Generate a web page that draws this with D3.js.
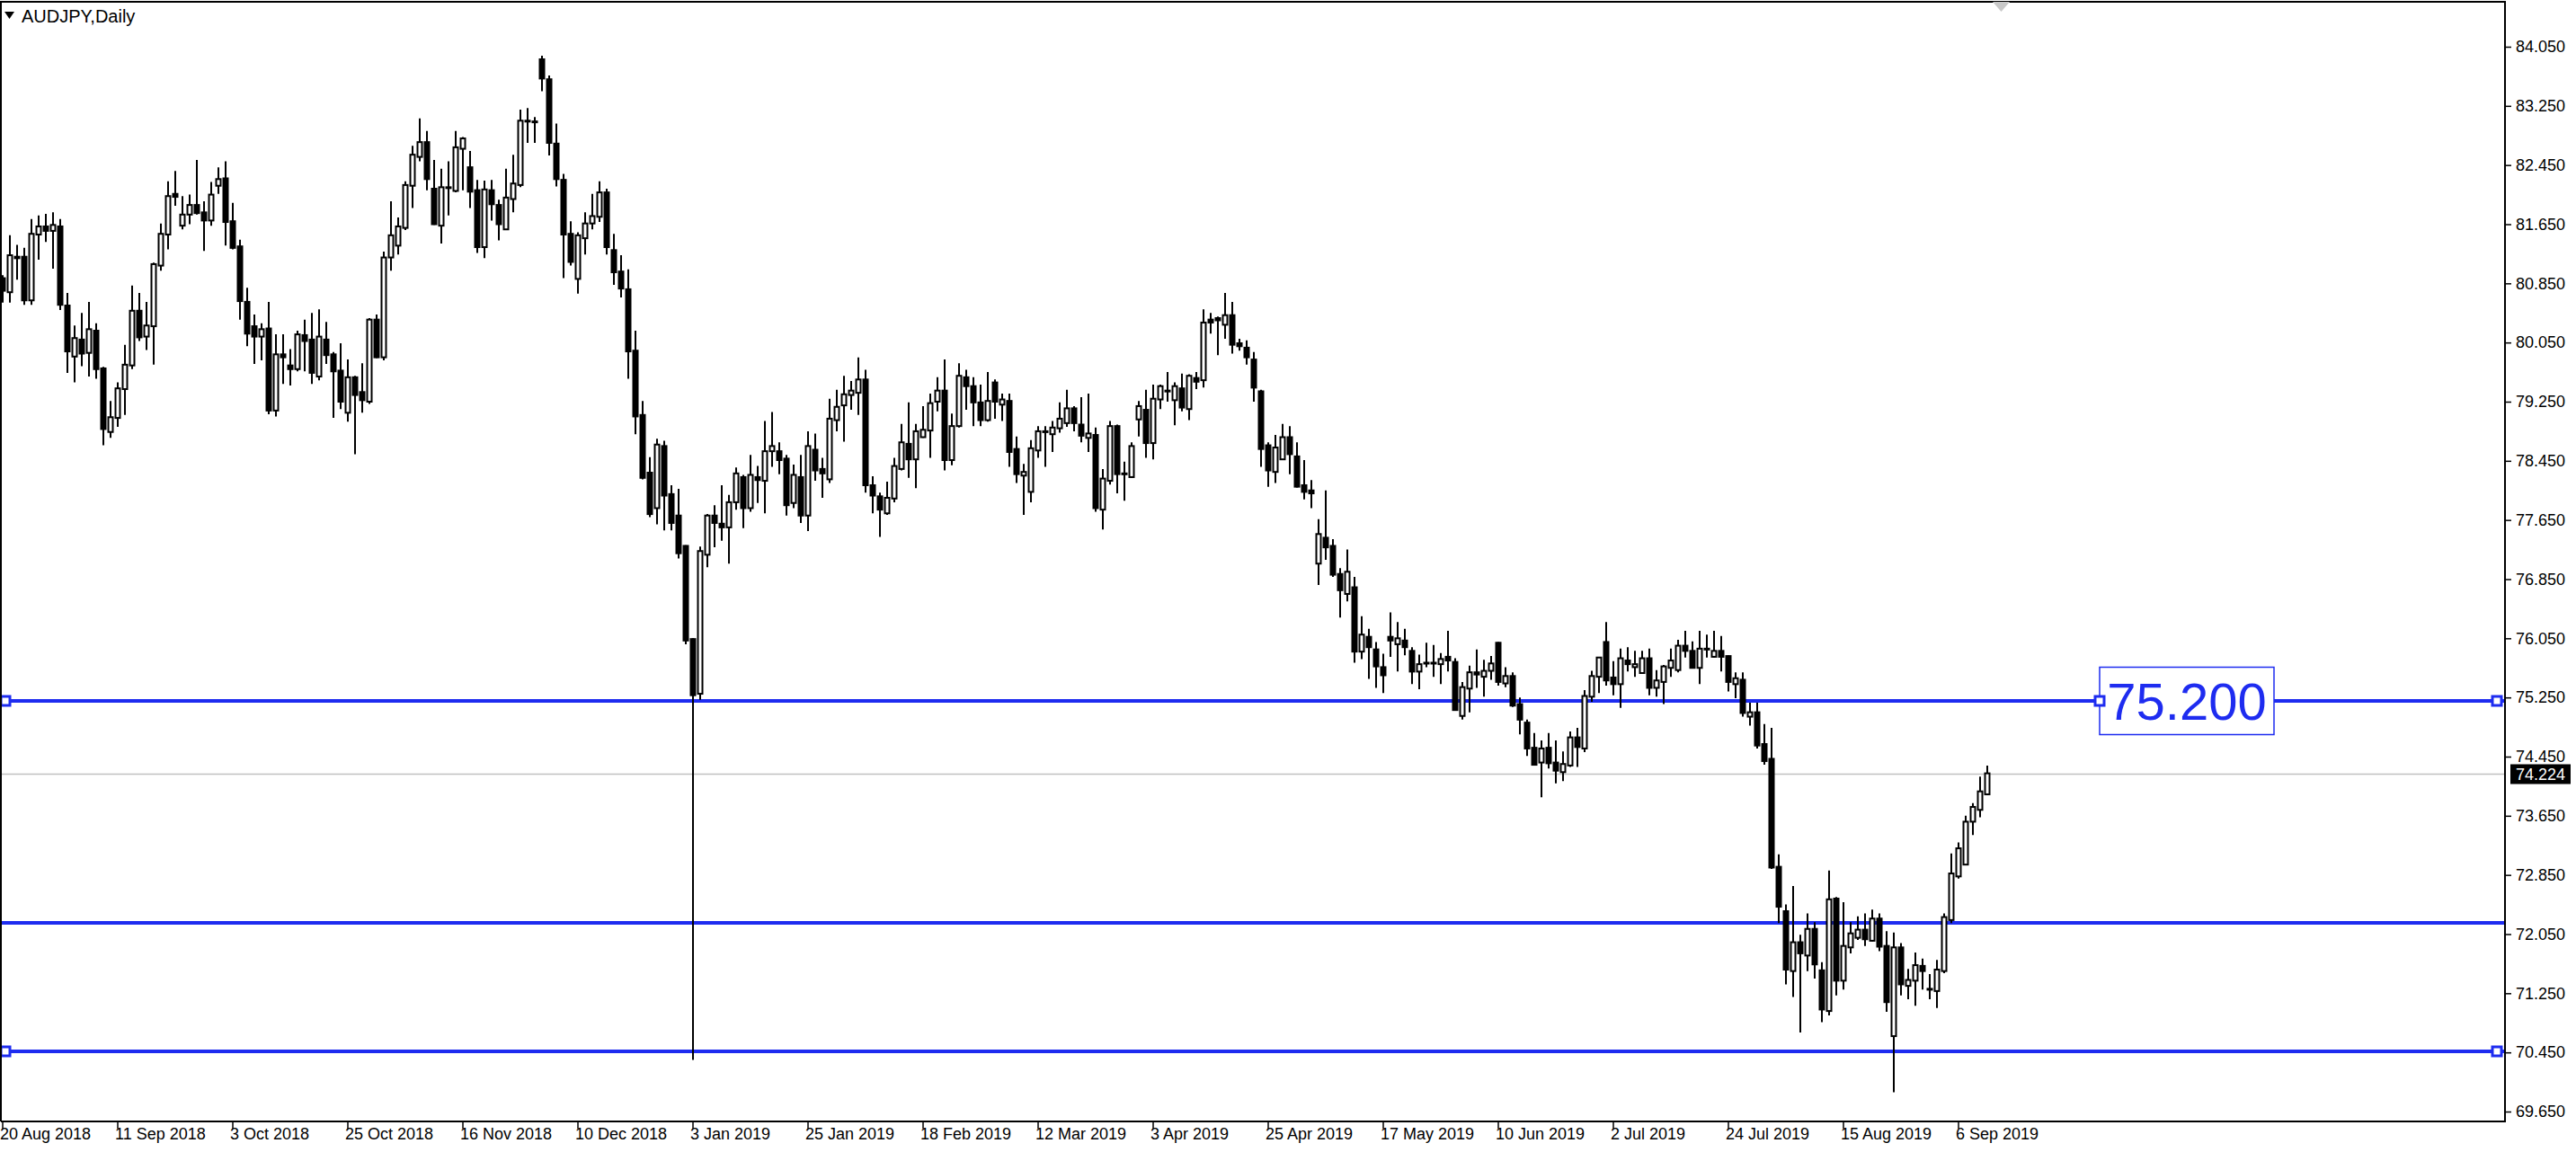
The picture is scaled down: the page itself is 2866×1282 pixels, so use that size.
<!DOCTYPE html>
<html>
<head>
<meta charset="utf-8">
<script src="https://cdn.jsdelivr.net/npm/d3@7"></script>
<style>
body { margin: 0; background: #fff; }
svg text { font-family: "Liberation Sans", Arial, sans-serif; }
</style>
</head>
<body>
<svg id="chart" width="2866" height="1282"></svg>
<script>
// AUDJPY daily bars, 20 Aug 2018 .. 12 Sep 2019
var openP = [80.92,80.73,81.21,81.21,80.62,81.51,81.62,81.56,81.62,80.55,79.86,80.09,79.91,80.21,79.70,78.84,79.03,79.42,79.74,80.48,
80.13,80.27,81.09,81.51,82.06,81.63,81.78,81.91,81.81,81.70,82.17,82.27,81.69,81.35,80.60,80.27,80.13,80.24,79.13,79.89,
79.74,79.69,80.15,80.09,79.59,80.09,79.89,79.67,79.10,79.58,79.38,79.25,80.36,79.85,81.20,81.36,81.60,82.17,82.56,82.76,
82.13,81.63,82.15,82.10,82.67,82.42,82.11,81.34,82.11,81.91,81.58,81.99,82.18,83.05,83.04,83.88,83.61,82.74,82.25,81.52,
80.91,81.46,81.66,81.75,82.08,81.30,81.01,80.77,79.94,79.07,78.29,77.81,78.65,78.00,77.71,77.30,76.04,75.30,77.18,77.71,
77.60,77.55,77.89,78.23,77.81,78.23,78.18,78.58,78.58,78.48,77.88,78.23,77.71,78.60,78.34,78.20,79.00,79.20,79.34,79.37,
79.55,78.12,77.97,77.74,77.94,78.34,78.68,78.47,78.77,78.86,79.25,79.40,78.46,78.92,79.58,79.46,79.24,79.00,79.51,79.21,
79.26,78.61,78.25,78.03,78.59,78.85,78.81,78.89,78.96,79.16,78.94,78.76,78.80,77.79,78.18,78.92,78.28,78.23,79.01,79.14,
78.69,79.28,79.40,79.27,79.43,79.15,79.57,79.54,80.36,80.38,80.29,80.42,80.04,79.98,79.82,79.39,78.66,78.30,78.47,78.77,
78.51,78.12,78.05,77.06,77.41,77.30,76.92,76.65,76.74,75.87,76.07,75.90,75.66,76.07,75.97,76.02,75.88,75.60,75.72,75.72,
75.70,75.80,75.73,75.00,75.37,75.59,75.53,75.61,75.99,75.44,75.54,75.16,74.91,74.57,74.37,74.57,74.37,74.24,74.33,74.71,
74.56,75.26,75.53,76.00,75.52,75.43,75.75,75.66,75.58,75.78,75.38,75.46,75.65,75.62,75.95,75.88,75.65,75.91,75.80,75.88,
75.81,75.43,75.49,74.99,75.05,74.62,74.42,72.96,72.36,71.55,71.94,71.76,72.12,71.56,71.01,72.53,71.42,71.87,72.00,72.11,
71.96,72.26,71.89,70.67,71.87,71.35,71.42,71.62,71.31,71.28,71.55,72.24,72.83,72.99,73.57,73.73,73.94];
var highP = [80.96,81.50,81.37,81.33,81.72,81.77,81.79,81.81,81.72,80.72,80.28,80.45,80.60,80.31,79.72,79.26,79.51,80.02,80.82,80.72,
80.60,81.13,81.66,82.23,82.37,82.03,82.05,82.52,81.96,82.22,82.42,82.50,81.94,81.44,80.79,80.43,80.31,80.60,80.16,80.16,
79.96,80.21,80.36,80.45,80.50,80.33,79.92,80.04,79.82,79.60,79.77,80.38,80.43,81.28,81.96,81.74,82.23,82.71,83.08,82.91,
82.52,82.40,82.50,82.91,82.83,82.64,82.25,82.24,82.25,81.98,82.40,82.59,83.20,83.22,83.10,83.93,83.66,83.01,82.33,81.69,
81.54,81.81,82.06,82.23,82.13,81.52,81.23,81.04,80.21,79.26,78.50,78.75,78.72,78.12,78.07,77.31,76.05,77.29,77.73,77.85,
78.12,77.99,78.36,78.26,78.53,78.38,78.99,79.11,78.70,78.53,78.40,78.53,78.85,78.82,78.49,79.29,79.41,79.60,79.53,79.85,
79.68,78.24,78.02,78.17,78.49,78.95,79.24,78.95,79.19,79.36,79.58,79.82,79.09,79.77,79.68,79.58,79.48,79.65,79.55,79.36,
79.36,78.78,78.41,78.73,78.92,78.92,78.99,79.24,79.41,79.19,79.31,79.36,78.90,78.34,78.99,78.94,78.44,78.70,79.26,79.41,
79.48,79.48,79.65,79.51,79.63,79.62,79.65,80.50,80.45,80.40,80.72,80.60,80.10,80.08,79.92,79.41,78.70,78.80,78.95,78.92,
78.70,78.46,78.19,77.66,78.05,77.39,77.00,77.25,76.88,76.35,76.18,76.00,75.84,76.40,76.27,76.18,75.93,75.83,75.99,75.96,
75.85,76.15,75.78,75.46,75.68,75.90,75.76,75.81,76.00,75.66,75.59,75.25,74.95,74.77,74.67,74.77,74.67,74.52,74.79,74.84,
75.35,75.61,75.80,76.27,75.74,75.91,75.93,75.88,75.88,75.91,75.62,75.69,75.91,76.03,76.15,76.01,76.15,76.10,76.15,76.08,
75.82,75.59,75.59,75.18,75.18,74.89,74.84,73.13,72.45,72.70,72.04,72.33,72.21,71.67,72.91,72.55,72.48,72.21,72.29,72.33,
72.38,72.33,72.09,72.07,71.93,71.58,71.80,71.72,71.51,71.70,72.33,73.14,73.29,73.65,73.82,74.18,74.33];
var lowP = [80.59,80.59,80.90,80.56,80.56,81.17,81.41,81.05,80.49,79.64,79.51,79.73,79.59,79.56,78.66,78.76,78.91,79.07,79.69,80.07,
79.95,79.75,81.02,81.31,81.90,81.58,81.65,81.78,81.29,81.63,82.06,81.36,81.31,80.36,80.00,79.76,79.81,79.08,79.05,79.49,
79.47,79.66,79.66,79.49,79.54,79.76,79.03,79.15,78.98,78.54,79.10,79.22,79.84,79.81,81.02,81.24,81.57,81.87,82.50,82.11,
81.64,81.39,81.77,82.08,82.11,81.87,81.26,81.19,81.70,81.43,81.57,81.81,82.15,82.75,82.75,83.45,82.58,82.16,80.92,81.09,
80.71,81.24,81.58,81.68,81.24,80.83,80.66,79.56,78.81,78.20,77.69,77.59,77.51,77.51,77.13,75.97,70.35,75.22,77.01,77.28,
77.37,77.06,77.79,77.54,77.76,77.88,77.74,78.37,78.27,77.71,77.81,77.61,77.50,78.18,77.95,78.15,78.85,78.71,79.14,79.07,
78.02,77.74,77.42,77.72,77.89,78.32,78.22,78.08,78.76,78.49,79.12,78.32,78.39,78.90,79.14,78.92,78.92,78.98,79.02,78.99,
78.37,78.15,77.72,77.89,78.49,78.37,78.57,78.83,78.91,78.85,78.70,78.57,77.76,77.52,78.13,78.01,77.91,78.22,78.78,78.49,
78.47,79.15,79.25,78.93,79.12,79.00,79.42,79.44,80.17,79.88,80.10,79.90,79.94,79.75,79.25,78.37,78.10,78.15,78.46,78.27,
78.09,77.93,77.81,76.77,77.11,76.88,76.33,76.55,75.72,75.77,75.50,75.38,75.31,75.80,75.60,75.82,75.43,75.36,75.66,75.53,
75.43,75.60,75.07,74.95,75.05,75.38,75.26,75.49,75.41,75.39,75.12,74.75,74.46,74.33,73.90,74.29,74.09,74.12,74.31,74.31,
74.51,75.19,75.31,75.41,75.28,75.11,75.60,75.53,75.57,75.28,75.26,75.16,75.53,75.59,75.79,75.64,75.43,75.79,75.79,75.60,
75.33,75.24,74.99,74.87,74.56,74.34,72.93,72.20,71.37,71.20,70.72,71.55,71.45,70.86,70.95,71.22,71.30,71.79,71.97,71.89,
71.95,71.82,71.00,69.91,71.22,71.17,71.08,71.30,71.17,71.05,71.52,72.20,72.80,72.98,73.39,73.63,73.93];
var closeP = [80.75,81.23,81.19,80.62,81.52,81.62,81.56,81.64,80.56,79.93,80.11,79.90,80.23,79.69,78.88,79.04,79.43,79.75,80.48,80.12,
80.28,81.11,81.52,82.03,82.02,81.78,81.91,81.80,81.70,82.05,82.26,81.68,81.33,80.61,80.17,80.13,80.23,79.13,79.89,79.85,
79.69,80.16,80.07,79.64,80.13,79.88,79.66,79.25,79.58,79.34,79.27,80.36,79.85,81.20,81.50,81.62,82.18,82.59,82.76,82.26,
81.65,82.15,82.14,82.69,82.81,82.09,81.34,82.12,81.92,81.65,82.01,82.20,83.05,83.04,83.03,83.62,82.75,82.26,81.51,81.14,
81.50,81.66,81.76,82.08,81.34,81.00,80.78,79.93,79.05,78.22,77.73,78.67,77.98,77.61,77.20,76.02,75.28,77.23,77.71,77.61,
77.55,77.89,78.28,77.81,78.26,78.19,78.58,78.65,78.46,77.85,78.26,77.71,78.65,78.32,78.28,79.02,79.18,79.35,79.40,79.55,
78.12,77.98,77.79,77.95,78.38,78.70,78.47,78.85,78.87,79.23,79.40,78.46,78.92,79.60,79.46,79.24,79.00,79.26,79.25,79.28,
78.57,78.27,78.30,78.62,78.85,78.84,78.90,79.02,79.16,78.96,78.79,78.82,77.81,78.21,78.92,78.27,78.27,78.65,79.19,78.69,
79.29,79.46,79.39,79.46,79.17,79.60,79.52,80.32,80.32,80.35,80.42,80.02,80.00,79.85,79.44,78.61,78.32,78.63,78.77,78.54,
78.10,78.03,78.01,77.46,77.28,76.91,76.70,76.95,75.87,76.10,75.93,75.67,75.55,76.02,76.05,75.93,75.60,75.70,75.71,75.71,
75.77,75.75,75.08,75.39,75.59,75.56,75.61,75.71,75.46,75.54,75.14,74.95,74.56,74.34,74.56,74.36,74.26,74.35,74.71,74.58,
75.27,75.54,75.79,75.48,75.43,75.78,75.70,75.70,75.78,75.38,75.48,75.67,75.75,75.95,75.88,75.65,75.91,75.90,75.88,75.80,
75.46,75.51,75.04,75.05,74.60,74.39,72.95,72.42,71.57,71.94,71.79,72.12,71.64,71.03,72.52,71.42,71.89,72.06,72.11,71.98,
72.26,71.88,71.13,71.87,71.37,71.43,71.63,71.55,71.30,71.57,72.28,72.87,73.21,73.57,73.77,73.98,74.224];

var dateLabels = ["20 Aug 2018","11 Sep 2018","3 Oct 2018","25 Oct 2018","16 Nov 2018","10 Dec 2018","3 Jan 2019",
  "25 Jan 2019","18 Feb 2019","12 Mar 2019","3 Apr 2019","25 Apr 2019","17 May 2019","10 Jun 2019","2 Jul 2019",
  "24 Jul 2019","15 Aug 2019","6 Sep 2019"];
var dateBars = [0,16,32,48,64,80,96,112,128,144,160,176,192,208,224,240,256,272];
var priceTicks = [84.05,83.25,82.45,81.65,80.85,80.05,79.25,78.45,77.65,76.85,76.05,75.25,74.45,73.65,72.85,72.05,71.25,70.45,69.65];
var levels = [75.2, 72.2, 70.46];
var markedLevels = [75.2, 70.46];
var lastPrice = 74.224;
var symbolTitle = "AUDJPY,Daily";

var W = 2866, H = 1282;
var axisX = 2787, plotTop = 2, plotBottom = 1248;
var blue = "#1e2cf0";

var svg = d3.select("#chart");
svg.append("rect").attr("width", W).attr("height", H).attr("fill", "#fff");

var n = openP.length;
var x = d3.scaleLinear().domain([0, n - 1]).range([3, 3 + 8 * (n - 1)]);
var y = d3.scaleLinear().domain([69.65, 84.05]).range([1237, 52]);
function py(v) { return Math.round(y(v)) + 0.5; }

// current price line
svg.append("line")
  .attr("x1", 0).attr("x2", axisX)
  .attr("y1", py(lastPrice)).attr("y2", py(lastPrice))
  .attr("stroke", "#c0c0c0").attr("stroke-width", 1.5);

// horizontal levels
svg.selectAll(".lvl").data(levels).join("line")
  .attr("class", "lvl")
  .attr("x1", 0).attr("x2", axisX)
  .attr("y1", d => Math.round(y(d))).attr("y2", d => Math.round(y(d)))
  .attr("stroke", blue).attr("stroke-width", 4);

// candles
var bars = svg.append("g").selectAll("g").data(d3.range(n)).join("g");
bars.append("line")
  .attr("x1", i => x(i)).attr("x2", i => x(i))
  .attr("y1", i => y(highP[i])).attr("y2", i => y(lowP[i]))
  .attr("stroke", "#000").attr("stroke-width", 2);
bars.append("rect")
  .attr("x", i => x(i) - 2.5)
  .attr("width", 5)
  .attr("y", i => y(Math.max(openP[i], closeP[i])))
  .attr("height", i => Math.max(1, Math.abs(y(openP[i]) - y(closeP[i]))))
  .attr("fill", i => closeP[i] > openP[i] ? "#fff" : "#000")
  .attr("stroke", "#000").attr("stroke-width", 2);

// selection markers on levels
var mk = [];
markedLevels.forEach(function (v) { mk.push([6, v]); mk.push([axisX - 9, v]); });
mk.push([2336, levels[0]]);

// label box on 75.200
var bx = 2336, bw = 194, bh = 75;
svg.append("rect")
  .attr("x", bx).attr("y", Math.round(y(levels[0])) - bh / 2)
  .attr("width", bw).attr("height", bh)
  .attr("fill", "#fff").attr("stroke", blue).attr("stroke-width", 1.5);
svg.append("text")
  .attr("x", bx + bw / 2).attr("y", Math.round(y(levels[0])) + 21)
  .attr("text-anchor", "middle")
  .attr("font-size", 58).attr("fill", blue)
  .text(d3.format(".3f")(levels[0]));

svg.selectAll(".mk").data(mk).join("rect")
  .attr("class", "mk")
  .attr("x", d => d[0] - 5).attr("y", d => Math.round(y(d[1])) - 5)
  .attr("width", 10).attr("height", 10)
  .attr("fill", "#fff").attr("stroke", blue).attr("stroke-width", 3);

// frame
svg.append("path")
  .attr("d", "M1," + plotBottom + "V" + plotTop + "H" + axisX + "V" + plotBottom + "H1")
  .attr("fill", "none").attr("stroke", "#000").attr("stroke-width", 2);

// price axis
var yAxis = d3.axisRight(y).tickValues(priceTicks).tickFormat(d3.format(".3f")).tickSize(7).tickPadding(5);
var ga = svg.append("g").attr("transform", "translate(" + axisX + ",0)").call(yAxis);
ga.select(".domain").remove();
ga.selectAll("line").attr("stroke", "#000").attr("stroke-width", 1.5);
ga.selectAll("text").attr("font-size", 18).attr("fill", "#000")
  .style("font-family", "'Liberation Sans', Arial, sans-serif");

// current price tag
svg.append("rect")
  .attr("x", axisX + 6).attr("y", py(lastPrice) - 11)
  .attr("width", 67).attr("height", 22).attr("fill", "#000");
svg.append("text")
  .attr("x", axisX + 12).attr("y", py(lastPrice) + 6.5)
  .attr("font-size", 18).attr("fill", "#fff")
  .text(d3.format(".3f")(lastPrice));

// date axis
var gd = svg.append("g");
gd.selectAll("line").data(dateBars).join("line")
  .attr("x1", d => x(d)).attr("x2", d => x(d))
  .attr("y1", plotBottom).attr("y2", plotBottom + 8)
  .attr("stroke", "#000").attr("stroke-width", 1.5);
gd.selectAll("text").data(dateBars).join("text")
  .attr("x", d => Math.max(0, x(d) - 3)).attr("y", plotBottom + 20)
  .attr("font-size", 18).attr("fill", "#000")
  .text((d, k) => dateLabels[k]);

// title
svg.append("path").attr("d", "M5,13 L16,13 L10.5,21 Z").attr("fill", "#000");
svg.append("text").attr("x", 24).attr("y", 25).attr("font-size", 20).attr("fill", "#000").text(symbolTitle);

// chart shift marker
svg.append("path").attr("d", "M2217,2 L2236,2 L2226.5,13 Z").attr("fill", "#c8c8c8");
</script>
</body>
</html>
